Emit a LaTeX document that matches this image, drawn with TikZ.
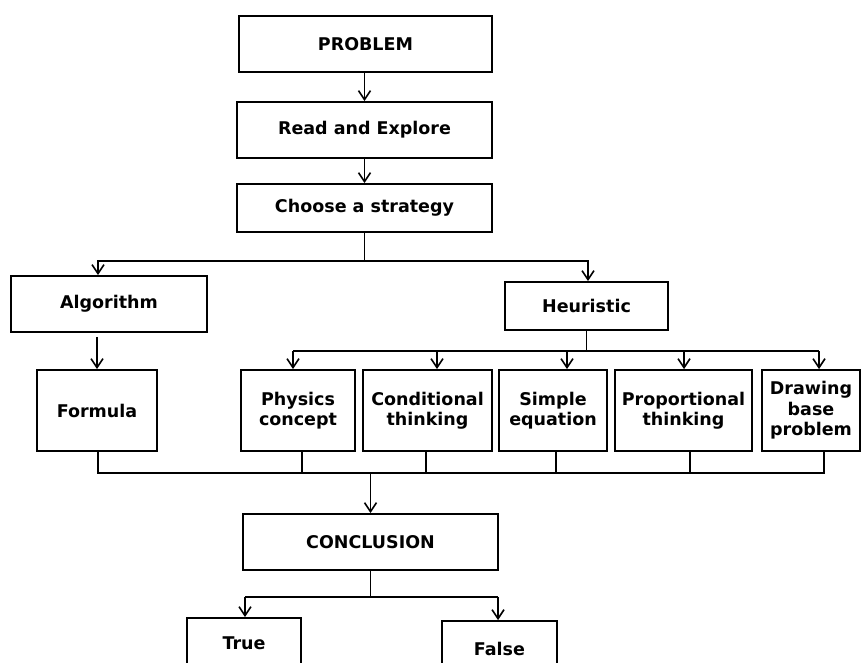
\documentclass[tikz,border=0pt]{standalone}
\usepackage{fontspec}
\setmainfont{DejaVu Sans}
\usetikzlibrary{arrows.meta,calc}
\begin{document}
\begin{tikzpicture}[x=1pt,y=-1pt,
  box/.style={draw,line width=1.8pt,inner sep=0pt,align=center,
    font=\fontsize{17.5}{20.5}\selectfont\bfseries},
  ln/.style={line width=1.8pt},
  arr/.style={line width=1.8pt,-{Straight Barb[length=9pt,width=12pt,line width=1.6pt]}}]
\clip (0,0) rectangle (861,662);
\fill[white] (0,0) rectangle (861,662);
% nodes
\node[box,minimum width=253,minimum height=56] (problem) at (365.5,44) {PROBLEM};
\node[box,minimum width=255,minimum height=56] (read) at (364.5,130) {Read and Explore};
\node[box,minimum width=255,minimum height=48] (choose) at (364.5,208) {Choose a strategy};
\node[box,minimum width=196,minimum height=56] (algo) at (109,304) {Algorithm};
\node[box,minimum width=120,minimum height=81] (formula) at (97,410.5) {Formula};
\node[box,minimum width=163,minimum height=48] (heur) at (586.5,306) {Heuristic};
\node[box,minimum width=114,minimum height=81] (phys) at (298,410.5) {Physics\\concept};
\node[box,minimum width=129,minimum height=81] (cond) at (427.5,410.5) {Conditional\\thinking};
\node[box,minimum width=108,minimum height=81] (simple) at (553,410.5) {Simple\\equation};
\node[box,minimum width=137,minimum height=81] (prop) at (683.5,410.5) {Proportional\\thinking};
\node[box,minimum width=98,minimum height=81] (drawb) at (811,410.5) {Drawing\\base\\problem};
\node[box,minimum width=255,minimum height=56] (concl) at (370.5,542) {CONCLUSION};
\node[box,minimum width=114,minimum height=50] (true) at (244,643) {True};
\node[box,minimum width=115,minimum height=56] (false) at (499.5,649) {False};
% top chain
\draw[arr] (read.north |- problem.south) -- (read.north);
\draw[arr] (choose.north |- read.south) -- (choose.north);
% choose split
\coordinate (j1) at ($(choose.south)+(0,28)$);
\draw[ln] (choose.south) -- (j1);
\draw[arr] (j1) -| ([xshift=-11pt]algo.north);
\draw[arr] (j1) -| ([xshift=1.5pt]heur.north);
% algorithm -> formula
\draw[arr] ([yshift=-4pt]formula.north |- algo.south) -- (formula.north);
% heuristic split
\coordinate (j2) at ($(heur.south)+(0,20)$);
\draw[ln] (heur.south) -- (j2);
\draw[ln] ([xshift=-5pt]phys.north |- j2) -- ([xshift=8pt]drawb.north |- j2);
\draw[arr] ([xshift=-5pt]phys.north |- j2) -- ([xshift=-5pt]phys.north);
\draw[arr] ([xshift=9.5pt]cond.north |- j2) -- ([xshift=9.5pt]cond.north);
\draw[arr] ([xshift=14pt]simple.north |- j2) -- ([xshift=14pt]simple.north);
\draw[arr] ([xshift=0.5pt]prop.north |- j2) -- ([xshift=0.5pt]prop.north);
\draw[arr] ([xshift=8pt]drawb.north |- j2) -- ([xshift=8pt]drawb.north);
% merge
\coordinate (j3) at ($(formula.south)+(0,21)$);
\draw[ln] ([xshift=1pt]formula.south) -- ([xshift=1pt]formula.south |- j3) -- ([xshift=13pt]drawb.south |- j3) -- ([xshift=13pt]drawb.south);
\draw[ln] ([xshift=4pt]phys.south) -- ([xshift=4pt]phys.south |- j3);
\draw[ln] ([xshift=-1.5pt]cond.south) -- ([xshift=-1.5pt]cond.south |- j3);
\draw[ln] ([xshift=3pt]simple.south) -- ([xshift=3pt]simple.south |- j3);
\draw[ln] ([xshift=6.5pt]prop.south) -- ([xshift=6.5pt]prop.south |- j3);
\draw[arr] (concl.north |- j3) -- (concl.north);
% conclusion split
\coordinate (j4) at ($(concl.south)+(0,26)$);
\draw[ln] (concl.south) -- (j4);
\draw[ln] ([xshift=1pt]true.north |- j4) -- ([xshift=-1.5pt]false.north |- j4);
\draw[arr] ([xshift=1pt]true.north |- j4) -- ([xshift=1pt]true.north);
\draw[arr] ([xshift=-1.5pt]false.north |- j4) -- ([xshift=-1.5pt]false.north);
\end{tikzpicture}
\end{document}
